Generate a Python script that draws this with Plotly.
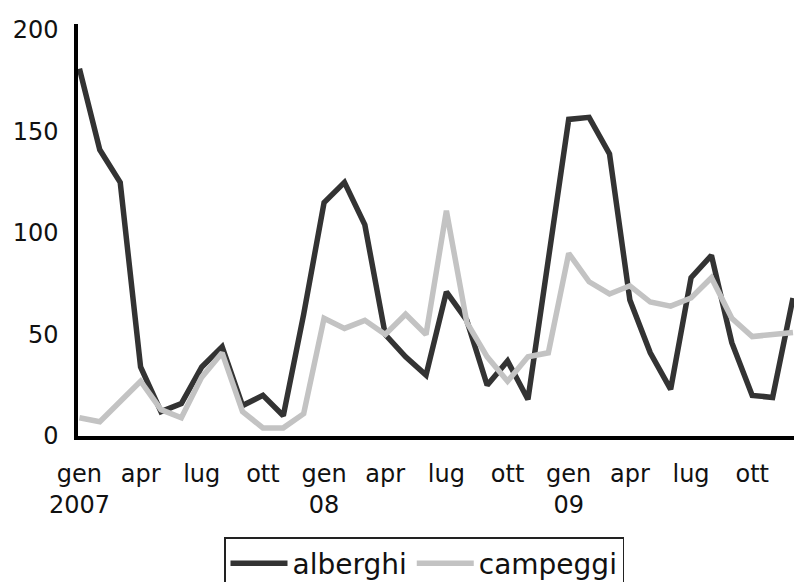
import plotly.graph_objects as go

months = ["gen", "feb", "mar", "apr", "mag", "giu", "lug", "ago", "set", "ott", "nov", "dic"]
years = ["2007", "08", "09"]

alberghi = [181, 141, 125, 34, 12, 16, 34, 44, 15, 20, 10, 60,
            115, 125, 104, 50, 39, 30, 71, 57, 25, 37, 18, 86,
            156, 157, 139, 67, 41, 23, 78, 89, 46, 20, 19, 68]
campeggi = [9, 7, 17, 27, 13, 9, 29, 41, 12, 4, 4, 11,
            58, 53, 57, 50, 60, 50, 111, 56, 39, 27, 39, 41,
            90, 76, 70, 74, 66, 64, 68, 78, 58, 49, 50, 51]

x = list(range(len(alberghi)))
tick_vals = [i for i in x if i % 3 == 0]
tick_text = []
for i in tick_vals:
    m = months[i % 12]
    if i % 12 == 0:
        tick_text.append(m + "<br>" + years[i // 12])
    else:
        tick_text.append(m)

fig = go.Figure()
fig.add_trace(go.Scatter(x=x, y=alberghi, mode="lines", name="alberghi",
                         line=dict(color="#333333", width=5.5)))
fig.add_trace(go.Scatter(x=x, y=campeggi, mode="lines", name="campeggi",
                         line=dict(color="#c3c3c3", width=5.5)))

font_main = "DejaVu Sans, Verdana, sans-serif"

fig.update_layout(
    width=794, height=582,
    margin=dict(l=78, r=0, t=24, b=146),
    plot_bgcolor="white", paper_bgcolor="white",
    font=dict(family=font_main, size=24, color="#111111"),
    showlegend=True,
    legend=dict(orientation="h", xref="container", yref="container",
                x=424/794, xanchor="center", y=1-537/582, yanchor="top",
                bordercolor="#222222", borderwidth=1.5,
                font=dict(family=font_main, size=28, color="#111111"),
                itemwidth=57, tracegroupgap=0),
)
fig.update_xaxes(range=[-0.07, 35.05], tickmode="array", tickvals=tick_vals,
                 ticktext=tick_text, showgrid=False, zeroline=False,
                 showline=True, linecolor="black", linewidth=3.5,
                 ticks="", ticklabelstandoff=13)
fig.update_yaxes(range=[0, 203], tickvals=[0, 50, 100, 150, 200],
                 showgrid=False, zeroline=False, showline=True,
                 linecolor="black", linewidth=3.5, ticks="",
                 ticklabelstandoff=11)

fig.write_html("out.html")
